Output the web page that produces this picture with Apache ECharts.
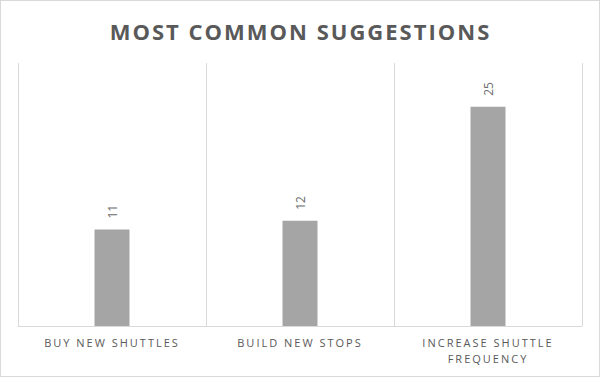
<!DOCTYPE html>
<html>
<head>
<meta charset="utf-8">
<script src="https://cdn.jsdelivr.net/npm/echarts@6/dist/echarts.min.js"></script>
<style>
  html, body { margin: 0; padding: 0; background: #fff; }
  #chart { position: absolute; left: 0; top: 0; width: 601px; height: 378px; }
  #frame { position: absolute; left: 0; top: 0; width: 600px; height: 377px; box-sizing: border-box; border: 1px solid #d9d9d9; pointer-events: none; }
</style>
</head>
<body>
<div id="chart"></div>
<div id="frame"></div>
<script>
const categories = ['BUY NEW SHUTTLES', 'BUILD NEW STOPS', 'INCREASE SHUTTLE\nFREQUENCY'];
const counts = [11, 12, 25];
const titleText = 'MOST COMMON SUGGESTIONS';

const chart = echarts.init(document.getElementById('chart'), null, { renderer: 'svg' });
chart.setOption({
    animation: false,
    title: {
        text: titleText,
        left: 'center',
        top: 15,
        textStyle: {
            fontFamily: 'Open Sans',
            fontWeight: 'bold',
            fontSize: 22,
            color: '#595959'
        }
    },
    grid: {
        left: 18,
        right: 19,
        top: 63,
        bottom: 52,
        outerBoundsMode: 'none'
    },
    xAxis: {
        type: 'category',
        data: categories,
        axisLine: { lineStyle: { color: '#d9d9d9', width: 1 } },
        axisTick: { show: false },
        splitLine: { show: true, lineStyle: { color: '#d9d9d9', width: 1 } },
        axisLabel: {
            color: '#595959',
            fontFamily: 'Open Sans',
            fontSize: 11,
            lineHeight: 16,
            margin: 8
        }
    },
    yAxis: {
        type: 'value',
        min: 0,
        max: 30,
        show: false,
        splitLine: { show: false }
    },
    series: [{
        type: 'bar',
        data: counts,
        barWidth: 35,
        itemStyle: { color: '#a5a5a5' },
        label: {
            show: true,
            position: 'top',
            rotate: 90,
            align: 'left',
            verticalAlign: 'middle',
            distance: 11,
            color: '#6b6b6b',
            fontFamily: 'Open Sans',
            fontSize: 12
        }
    }]
});

// Office-style tracking on title and category labels
const svg = document.querySelector('#chart svg');
svg.querySelectorAll('text').forEach(t => {
    const s = t.textContent;
    if (s === titleText) t.style.letterSpacing = '2px';
    else if (!/^\d+$/.test(s)) t.style.letterSpacing = '2px';
});
</script>
</body>
</html>
